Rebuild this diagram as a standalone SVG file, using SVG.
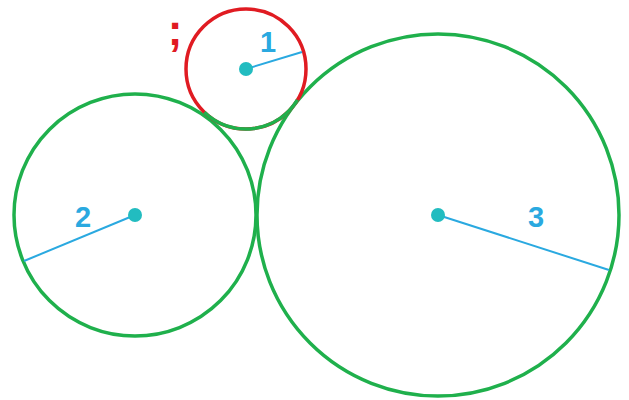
<svg xmlns="http://www.w3.org/2000/svg" width="629" height="400" viewBox="0 0 629 400">
<style>
.c{fill:none;stroke-width:3.5}
.g{stroke:#1fb04c}
.r{stroke:#e01b22}
.rad{stroke:#2aa9e0;stroke-width:2}
.dot{fill:#22bcc0}
.lbl{font-family:"Liberation Sans",Arial,sans-serif;font-size:29px;font-weight:bold;fill:#2aa9e0;text-anchor:middle}
</style>
<rect width="629" height="400" fill="#ffffff"/>
<g id="circle2">
<circle class="c g" cx="135" cy="215" r="121"/>
<line class="rad" x1="135" y1="215" x2="24" y2="261"/>
<circle class="dot" cx="135" cy="215" r="7"/>
<text class="lbl" x="83" y="227">2</text>
</g>
<g id="circle3">
<circle class="c g" cx="438" cy="215" r="181"/>
<line class="rad" x1="438" y1="215" x2="609" y2="270"/>
<circle class="dot" cx="438" cy="215" r="7"/>
<text class="lbl" x="536" y="227">3</text>
</g>
<g id="circle1">
<circle class="c r" cx="246" cy="69" r="60"/>
<path class="c g" d="M297.4 99.9 A60 60 0 0 1 204.3 112.2"/>
<line class="rad" x1="246" y1="69" x2="302" y2="52"/>
<circle class="dot" cx="246" cy="69" r="7"/>
<text class="lbl" x="268" y="52">1</text>
</g>
<text x="175" y="45" font-family="'Liberation Sans',Arial,sans-serif" font-size="44" font-weight="bold" fill="#e01b22" text-anchor="middle">;</text>
</svg>
